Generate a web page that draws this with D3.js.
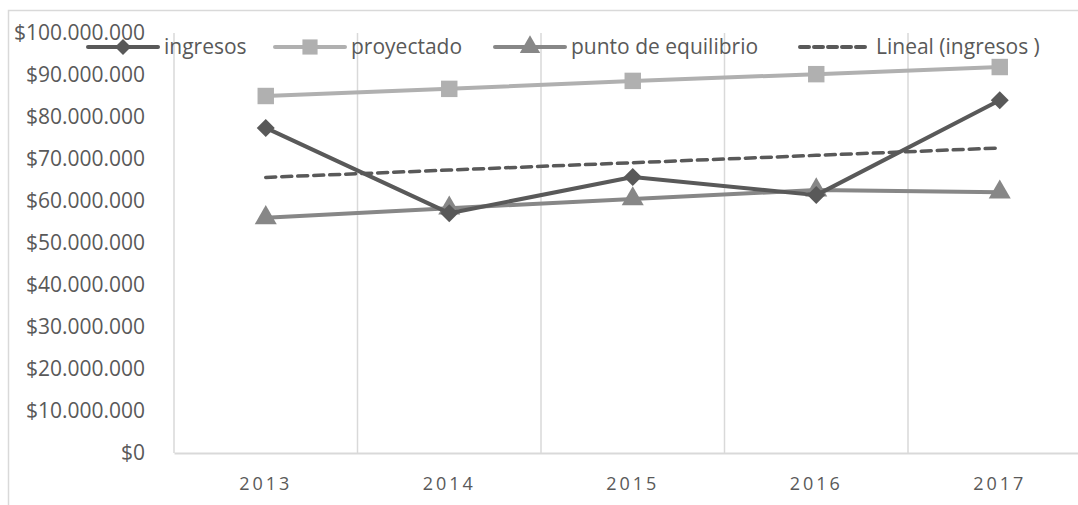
<!DOCTYPE html>
<html>
<head>
<meta charset="utf-8">
<script src="https://cdn.jsdelivr.net/npm/d3@7"></script>
<style>
  html, body { margin: 0; padding: 0; background: #fff; }
  svg { display: block; font-family: "Open Sans", sans-serif; }
</style>
</head>
<body>
<svg id="chart" width="1078" height="505"></svg>
<script>
const categories = ["2013", "2014", "2015", "2016", "2017"];
const ingresos = [77400000, 57100000, 65700000, 61400000, 84000000];
const proyectado = [85000000, 86700000, 88600000, 90200000, 91900000];
const puntoEquilibrio = [56000000, 58300000, 60500000, 62600000, 62100000];
const yTicks = [0, 10000000, 20000000, 30000000, 40000000, 50000000, 60000000, 70000000, 80000000, 90000000, 100000000];
const legendLabels = ["ingresos", "proyectado", "punto de equilibrio", "Lineal (ingresos )"];

// linear trend of ingresos (least squares)
const n = ingresos.length;
const xs = d3.range(n);
const mx = d3.mean(xs), my = d3.mean(ingresos);
const slope = d3.sum(xs, i => (i - mx) * (ingresos[i] - my)) / d3.sum(xs, i => (i - mx) ** 2);
const trend = xs.map(i => my + slope * (i - mx));

const svg = d3.select("#chart");
const plot = { left: 174, right: 1091.5, top: 33, bottom: 453 };

const textColor = "#595959";
const gridColor = "#d9d9d9";

// square-diamond symbol (equal width and height)
const diamondSq = {
  draw(ctx, size) {
    const r = Math.sqrt(size / 2);
    ctx.moveTo(0, -r); ctx.lineTo(r, 0); ctx.lineTo(0, r); ctx.lineTo(-r, 0); ctx.closePath();
  }
};

// outer chart frame
svg.append("rect").attr("x", 8.5).attr("y", 10.5).attr("width", 1200).attr("height", 600)
  .attr("fill", "#fff").attr("stroke", gridColor).attr("stroke-width", 1.5);

const x = d3.scaleBand().domain(categories).range([plot.left, plot.right]).padding(0);
const y = d3.scaleLinear().domain([0, 100000000]).range([plot.bottom, plot.top]);

// vertical gridlines at category boundaries
const bounds = categories.map(c => x(c)).concat([x(categories[n - 1]) + x.bandwidth()]);
svg.append("g").selectAll("line").data(bounds).join("line")
  .attr("x1", d => d).attr("x2", d => d)
  .attr("y1", plot.top).attr("y2", plot.bottom)
  .attr("stroke", gridColor).attr("stroke-width", 1.5);

// x axis
const fmt = v => "$" + d3.format(",")(v).replace(/,/g, ".");
const xAxis = d3.axisBottom(x).tickSize(0).tickSizeOuter(0).tickPadding(0);
const gx = svg.append("g").attr("transform", `translate(0,${plot.bottom})`).call(xAxis);
gx.select(".domain").attr("stroke", gridColor).attr("stroke-width", 2);
gx.selectAll("text").attr("fill", textColor).attr("font-size", 18)
  .attr("font-family", "'Open Sans', sans-serif")
  .style("letter-spacing", "3px")
  .attr("dy", null).attr("y", 37);

// y axis (labels only)
const yAxis = d3.axisLeft(y).tickValues(yTicks).tickFormat(fmt).tickSize(0).tickPadding(0);
const gy = svg.append("g").attr("transform", `translate(145,0)`).call(yAxis);
gy.select(".domain").remove();
gy.selectAll("text").attr("fill", textColor).attr("font-size", 21)
  .attr("font-family", "'Open Sans', sans-serif");

const cx = i => x(categories[i]) + x.bandwidth() / 2;
const line = d3.line().x((d, i) => cx(i)).y(d => y(d));

const series = [
  { key: "proyectado", data: proyectado, color: "#b0b0b0", symbol: d3.symbolSquare, size: 270 },
  { key: "punto", data: puntoEquilibrio, color: "#878787", symbol: d3.symbolTriangle, size: 210 },
  { key: "ingresos", data: ingresos, color: "#595959", symbol: diamondSq, size: 162 }
];

// trend line
svg.append("path").datum(trend).attr("d", line).attr("fill", "none")
  .attr("stroke", "#595959").attr("stroke-width", 3.5).attr("stroke-dasharray", "10 6")
  .attr("stroke-linecap", "round");

series.forEach(s => {
  svg.append("path").datum(s.data).attr("d", line).attr("fill", "none")
    .attr("stroke", s.color).attr("stroke-width", 4).attr("stroke-linejoin", "round");
  svg.append("g").selectAll("path").data(s.data).join("path")
    .attr("transform", (d, i) => `translate(${cx(i)},${y(d)})`)
    .attr("d", d3.symbol().type(s.symbol).size(s.size)())
    .attr("fill", s.color);
});

// legend
const legendItems = [
  { label: legendLabels[0], color: "#595959", symbol: diamondSq, size: 128, dash: null, x0: 88 },
  { label: legendLabels[1], color: "#b0b0b0", symbol: d3.symbolSquare, size: 230, dash: null, x0: 275 },
  { label: legendLabels[2], color: "#878787", symbol: d3.symbolTriangle, size: 180, dash: null, x0: 495 },
  { label: legendLabels[3], color: "#595959", symbol: null, size: 0, dash: "9 5", x0: 800 }
];
const ly = 47;
const lg = svg.append("g");
legendItems.forEach(it => {
  const g = lg.append("g");
  g.append("line").attr("x1", it.x0).attr("x2", it.x0 + 70).attr("y1", ly).attr("y2", ly)
    .attr("stroke", it.color).attr("stroke-width", 4)
    .attr("stroke-dasharray", it.dash).attr("stroke-linecap", "round");
  if (it.symbol) {
    g.append("path").attr("transform", `translate(${it.x0 + 35},${ly})`)
      .attr("d", d3.symbol().type(it.symbol).size(it.size)()).attr("fill", it.color);
  }
  g.append("text").attr("x", it.x0 + 76).attr("y", ly).attr("dy", "0.35em")
    .attr("fill", textColor).attr("font-size", 21).text(it.label);
});
</script>
</body>
</html>
